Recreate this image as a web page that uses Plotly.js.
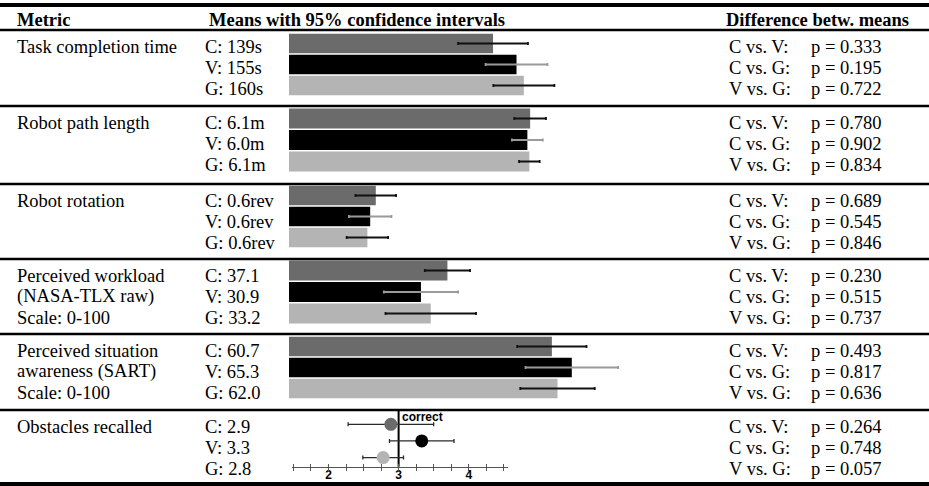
<!DOCTYPE html>
<html><head><meta charset="utf-8">
<script src="https://cdn.plot.ly/plotly-3.0.1.min.js"></script>
<style>html,body{margin:0;padding:0;background:#fff;overflow:hidden}</style>
</head><body><div id="chart" style="width:929px;height:486px"></div>
<script>
// ---------------- data ----------------
const groups = ['C', 'V', 'G'];
const metricNames = [
  ['Task completion time'],
  ['Robot path length'],
  ['Robot rotation'],
  ['Perceived workload', '(NASA-TLX raw)', 'Scale: 0-100'],
  ['Perceived situation', 'awareness (SART)', 'Scale: 0-100'],
  ['Obstacles recalled']
];
const meanLabels = [
  ['C: 139s', 'V: 155s', 'G: 160s'],
  ['C: 6.1m', 'V: 6.0m', 'G: 6.1m'],
  ['C: 0.6rev', 'V: 0.6rev', 'G: 0.6rev'],
  ['C: 37.1', 'V: 30.9', 'G: 33.2'],
  ['C: 60.7', 'V: 65.3', 'G: 62.0'],
  ['C: 2.9', 'V: 3.3', 'G: 2.8']
];
const taskTime = [139, 155, 160];
const taskTimeCI = [23.8, 21.1, 20.8];
const pathLength = [6.09, 6.02, 6.07];
const pathLengthCI = [0.40, 0.39, 0.26];
const rotation = [0.62, 0.58, 0.56];
const rotationCI = [0.145, 0.152, 0.148];
const workload = [37.1, 30.9, 33.2];
const workloadCI = [5.3, 8.7, 10.6];
const sart = [60.7, 65.3, 62.0];
const sartCI = [8.0, 10.7, 8.6];
const obstacles = [2.89, 3.33, 2.78];
const obstaclesCI = [0.61, 0.46, 0.29];
const correctCount = 3;
const comparisons = ['C vs. V:', 'C vs. G:', 'V vs. G:'];
const pValues = [
  ['0.333', '0.195', '0.722'],
  ['0.780', '0.902', '0.834'],
  ['0.689', '0.545', '0.846'],
  ['0.230', '0.515', '0.737'],
  ['0.493', '0.817', '0.636'],
  ['0.264', '0.748', '0.057']
];
const headers = ['Metric', 'Means with 95% confidence intervals', 'Difference betw. means'];

// ---------------- layout helpers ----------------
const W = 929, H = 486;
const px = v => v / W;
const py = v => 1 - v / H;
const groupColors = ['#6b6b6b', '#000000', '#b4b4b4'];
const errColors = ['#111111', '#9a9a9a', '#111111'];
const SERIF = 'Liberation Serif, Times New Roman, serif';
const SANS = 'Liberation Sans, Arial, sans-serif';
const FS = 18.5;

const barRows = [
  {vals: taskTime, ci: taskTimeCI, max: 280, top: 33, bot: 96},
  {vals: pathLength, ci: pathLengthCI, max: 10.38, top: 107.75, bot: 172.25},
  {vals: rotation, ci: rotationCI, max: 2.936, top: 185, bot: 248},
  {vals: workload, ci: workloadCI, max: 96.25, top: 259.75, bot: 324.25},
  {vals: sart, ci: sartCI, max: 94.9, top: 336, bot: 399}
];
const barX0 = 289, barX1 = 700;

const traces = [];
const layout = {
  width: W, height: H,
  margin: {l: 0, r: 0, t: 0, b: 0, pad: 0},
  paper_bgcolor: '#fff', plot_bgcolor: 'rgba(0,0,0,0)',
  showlegend: false, barmode: 'overlay',
  annotations: [], shapes: [],
  hovermode: false
};

barRows.forEach((row, r) => {
  const n = r + 1;
  const xa = n === 1 ? 'xaxis' : 'xaxis' + n;
  const ya = n === 1 ? 'yaxis' : 'yaxis' + n;
  layout[xa] = {domain: [px(barX0), px(barX1)], range: [0, row.max], visible: false, fixedrange: true, anchor: n === 1 ? 'y' : 'y' + n};
  layout[ya] = {domain: [py(row.bot), py(row.top)], range: [2.5, -0.5], visible: false, fixedrange: true, anchor: n === 1 ? 'x' : 'x' + n};
  groups.forEach((g, i) => {
    traces.push({
      type: 'bar', orientation: 'h',
      x: [row.vals[i]], y: [i], width: 0.92,
      marker: {color: groupColors[i], line: {width: 0}},
      error_x: {type: 'data', array: [row.ci[i]], color: errColors[i], thickness: 1.8, width: 1.5},
      xaxis: n === 1 ? 'x' : 'x' + n, yaxis: n === 1 ? 'y' : 'y' + n,
      hoverinfo: 'skip'
    });
  });
});

// obstacles subplot
const obsX0 = 292, obsX1 = 508, obsTop = 411, obsBot = 466.7;
layout.xaxis6 = {
  domain: [px(obsX0), px(obsX1)], range: [1.48, 4.56], anchor: 'y6',
  showgrid: false, zeroline: false, showline: true, linecolor: '#555', linewidth: 1.3,
  ticks: 'inside', ticklen: 3, tickwidth: 1, tickcolor: '#555', dtick: 1, tick0: 0,
  minor: {dtick: 0.25, ticks: 'inside', ticklen: 3, tickwidth: 1, tickcolor: '#555', showgrid: false},
  tickfont: {family: SANS, size: 12, weight: 'bold', color: '#000'},
  ticklabelstandoff: -3, fixedrange: true
};
layout.xaxis7 = {
  domain: [px(obsX0), px(obsX1)], range: [1.48, 4.56], anchor: 'y6', overlaying: 'x6',
  showgrid: false, zeroline: false, showline: false,
  ticks: 'outside', ticklen: 3, tickwidth: 1, tickcolor: '#555', dtick: 0.25, tick0: 0,
  showticklabels: false, fixedrange: true
};
layout.yaxis6 = {domain: [py(obsBot), py(obsTop)], range: [-0.55, 2.8], visible: false, fixedrange: true, anchor: 'x6'};

groups.forEach((g, i) => {
  traces.push({
    type: 'scatter', mode: 'markers',
    x: [obstacles[i]], y: [2 - i],
    marker: {color: groupColors[i], size: 13, line: {width: 0}},
    error_x: {type: 'data', array: [obstaclesCI[i]], color: '#2a2a2a', thickness: 1.3, width: 2},
    xaxis: 'x6', yaxis: 'y6', hoverinfo: 'skip', cliponaxis: false
  });
});
traces.push({type: 'scatter', mode: 'markers', x: [obstacles[0]], y: [2], marker: {opacity: 0}, xaxis: 'x7', yaxis: 'y6', hoverinfo: 'skip'});

layout.shapes.push({type: 'line', xref: 'x6', yref: 'y6 domain', x0: correctCount, x1: correctCount, y0: 0, y1: 1, line: {color: '#000', width: 2}, layer: 'below'});
layout.annotations.push({xref: 'paper', yref: 'paper', x: px(401), y: py(417), xanchor: 'left', yanchor: 'middle', showarrow: false,
  text: 'correct', font: {family: SANS, size: 12, weight: 'bold', color: '#000'}, borderpad: 0});

// horizontal rules
[[5, 4], [30, 2.5], [106, 2.5], [184, 2.5], [259, 2.5], [334, 2.5], [410, 2.5], [484, 4]].forEach(([yy, w]) => {
  layout.shapes.push({type: 'line', xref: 'paper', yref: 'paper', x0: 0, x1: 1, y0: py(yy), y1: py(yy), line: {color: '#000', width: w}});
});

// text
function txt(s, x, base, bold) {
  layout.annotations.push({
    xref: 'paper', yref: 'paper', x: px(x), y: py(base - 6), xanchor: 'left', yanchor: 'middle',
    showarrow: false, text: s, borderpad: 0,
    font: {family: SERIF, size: FS, color: '#000', weight: bold ? 'bold' : 'normal'}
  });
}
const headerX = [16, 208, 725];
headers.forEach((h, i) => txt(h, headerX[i], 26, true));
const rowBase = [52.7, 128.7, 206.7, 281.7, 356.7, 432.7];
const LS = 21.2;
rowBase.forEach((b, r) => {
  metricNames[r].forEach((s, k) => txt(s, 16, b + k * LS));
  meanLabels[r].forEach((s, k) => txt(s, 204, b + k * LS));
  comparisons.forEach((s, k) => txt(s, 728, b + k * LS));
  pValues[r].forEach((s, k) => txt('p = ' + s, 810, b + k * LS));
});

Plotly.newPlot('chart', traces, layout, {staticPlot: true, displayModeBar: false});
</script></body></html>
